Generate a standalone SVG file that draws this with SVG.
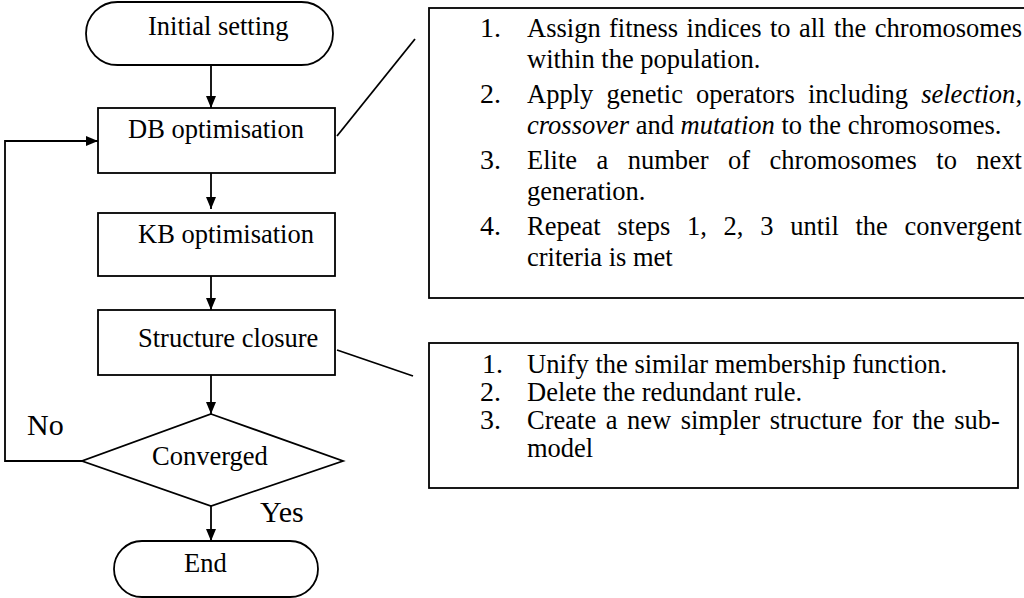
<svg xmlns="http://www.w3.org/2000/svg" width="1024" height="598" viewBox="0 0 1024 598">
<style>
  .shape { fill: #fff; stroke: #000; stroke-width: 1.8; }
  .conn { fill: none; stroke: #000; stroke-width: 1.8; }
  text { font-family: 'Liberation Serif', 'Times New Roman', Times, 'DejaVu Serif', 'Noto Serif', serif; fill: #000; }
  .t { font-size: 26.5px; }
  .num { font-size: 28px; }
  .lbl { font-size: 30px; }
  .i { font-style: italic; }
</style>
<defs>
  <marker id="ah" markerUnits="userSpaceOnUse" markerWidth="13" markerHeight="12" refX="12" refY="6" orient="auto">
    <path d="M0,1 L12,6 L0,11 z" fill="#000"/>
  </marker>
</defs>
<rect width="1024" height="598" fill="#fff"/>

<g id="connectors">
  <line class="conn" x1="211" y1="65" x2="211" y2="108" marker-end="url(#ah)"/>
  <line class="conn" x1="211" y1="173" x2="211" y2="209" marker-end="url(#ah)"/>
  <line class="conn" x1="211" y1="276" x2="211" y2="310" marker-end="url(#ah)"/>
  <line class="conn" x1="211" y1="375" x2="211" y2="414" marker-end="url(#ah)"/>
  <line class="conn" x1="211" y1="506" x2="211" y2="541" marker-end="url(#ah)"/>
  <polyline class="conn" points="82,461 5,461 5,141 98,141" marker-end="url(#ah)"/>
  <line class="conn" x1="337" y1="136" x2="415" y2="39"/>
  <line class="conn" x1="337" y1="350" x2="413" y2="376"/>
</g>

<g id="initial">
  <rect class="shape" x="86" y="2" width="247" height="63" rx="31.5" ry="31.5"/>
  <text class="t" x="148" y="35">Initial setting</text>
</g>
<g id="db">
  <rect class="shape" x="98" y="108" width="237" height="65"/>
  <text class="t" x="128" y="138">DB optimisation</text>
</g>
<g id="kb">
  <rect class="shape" x="98" y="213" width="237" height="63"/>
  <text class="t" x="138" y="243">KB optimisation</text>
</g>
<g id="structure">
  <rect class="shape" x="98" y="310" width="237" height="65"/>
  <text class="t" x="138" y="347">Structure closure</text>
</g>
<g id="converged">
  <polygon class="shape" points="211,414 343,461 211,506 82,461"/>
  <text class="t" x="152" y="465">Converged</text>
</g>
<g id="end">
  <rect class="shape" x="114" y="541" width="204" height="56" rx="28" ry="28"/>
  <text class="t" x="184" y="572">End</text>
</g>
<g id="labels">
  <text class="lbl" x="27" y="435">No</text>
  <text class="lbl" x="260" y="522">Yes</text>
</g>

<g id="ga-steps">
  <rect class="shape" x="429" y="8" width="600" height="290"/>
  <text class="num" x="480" y="37">1.</text>
  <text class="t" y="37"><tspan x="527">Assign</tspan><tspan x="609">fitness</tspan><tspan x="686.6">indices</tspan><tspan x="770">to</tspan><tspan x="799">all</tspan><tspan x="834">the</tspan><tspan x="874.8">chromosomes</tspan></text>
  <text class="t" x="527" y="68">within the population.</text>
  <text class="num" x="480" y="103">2.</text>
  <text class="t" y="103"><tspan x="527">Apply</tspan><tspan x="606.4">genetic</tspan><tspan x="696.1">operators</tspan><tspan x="807.9">including</tspan><tspan class="i" x="921.2">selection</tspan>,</text>
  <text class="t" x="527" y="134"><tspan class="i">crossover</tspan> and <tspan class="i">mutation</tspan> to the chromosomes.</text>
  <text class="num" x="480" y="169">3.</text>
  <text class="t" y="169"><tspan x="527">Elite</tspan><tspan x="596.5">a</tspan><tspan x="627.7">number</tspan><tspan x="728">of</tspan><tspan x="769.6">chromosomes</tspan><tspan x="936.3">to</tspan><tspan x="976.3">next</tspan></text>
  <text class="t" x="527" y="200">generation.</text>
  <text class="num" x="480" y="235">4.</text>
  <text class="t" y="235"><tspan x="527">Repeat</tspan><tspan x="617.3">steps</tspan><tspan x="687">1,</tspan><tspan x="723.6">2,</tspan><tspan x="760.2">3</tspan><tspan x="790.2">until</tspan><tspan x="855.5">the</tspan><tspan x="904.6">convergent</tspan></text>
  <text class="t" x="527" y="266">criteria is met</text>
</g>

<g id="closure-steps">
  <rect class="shape" x="429" y="343" width="589" height="145"/>
  <text class="num" x="482" y="373">1.</text>
  <text class="t" x="527" y="373">Unify the similar membership function.</text>
  <text class="num" x="480" y="401">2.</text>
  <text class="t" x="527" y="401">Delete the redundant rule.</text>
  <text class="num" x="480" y="429">3.</text>
  <text class="t" x="527" y="429" word-spacing="2.9">Create a new simpler structure for the sub-</text>
  <text class="t" x="527" y="457">model</text>
</g>
</svg>
